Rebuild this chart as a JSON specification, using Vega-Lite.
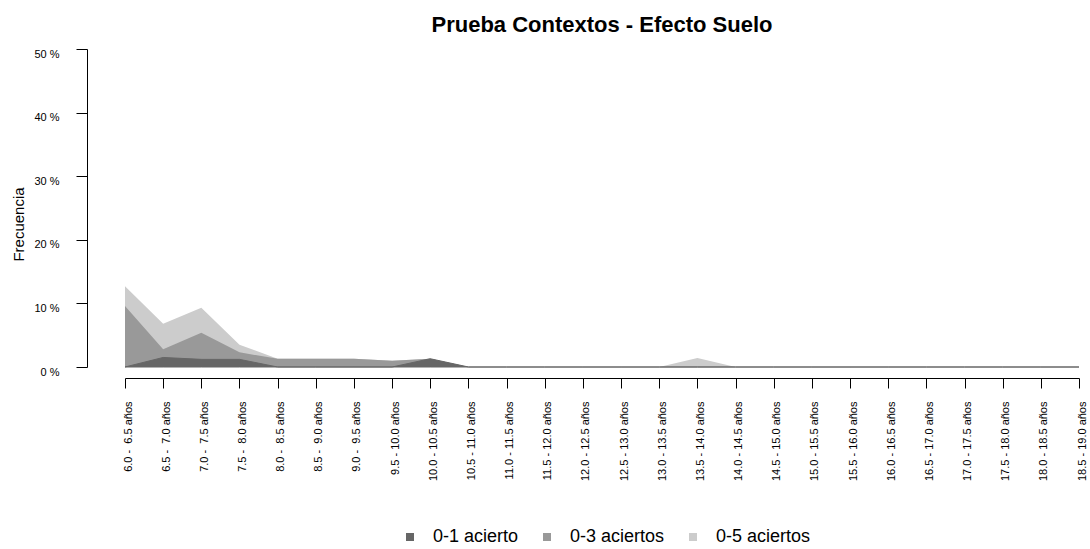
{
  "$schema": "https://vega.github.io/schema/vega-lite/v6.json",
  "width": 954,
  "height": 318,
  "autosize": {"type": "none"},
  "padding": {"left": 125, "top": 49, "right": 11, "bottom": 182},
  "background": "white",
  "title": {"text": "Prueba Contextos - Efecto Suelo", "fontSize": 22, "fontWeight": "bold", "font": "Liberation Sans", "color": "black", "anchor": "middle", "baseline": "alphabetic", "offset": -6},
  "data": {"values": [
    {"edad": "6.0 - \u00a06.5 años", "0-1 acierto": 0, "0-3 aciertos": 9.6, "0-5 aciertos": 12.7},
    {"edad": "6.5 - \u00a07.0 años", "0-1 acierto": 1.5, "0-3 aciertos": 2.8, "0-5 aciertos": 6.8},
    {"edad": "7.0 - \u00a07.5 años", "0-1 acierto": 1.2, "0-3 aciertos": 5.4, "0-5 aciertos": 9.3},
    {"edad": "7.5 - \u00a08.0 años", "0-1 acierto": 1.2, "0-3 aciertos": 2.3, "0-5 aciertos": 3.5},
    {"edad": "8.0 - \u00a08.5 años", "0-1 acierto": 0, "0-3 aciertos": 1.3, "0-5 aciertos": 1.3},
    {"edad": "8.5 - \u00a09.0 años", "0-1 acierto": 0, "0-3 aciertos": 1.3, "0-5 aciertos": 1.3},
    {"edad": "9.0 - \u00a09.5 años", "0-1 acierto": 0, "0-3 aciertos": 1.3, "0-5 aciertos": 1.3},
    {"edad": "9.5 - 10.0 años", "0-1 acierto": 0, "0-3 aciertos": 1.0, "0-5 aciertos": 1.0},
    {"edad": "10.0 - 10.5 años", "0-1 acierto": 1.3, "0-3 aciertos": 1.3, "0-5 aciertos": 1.3},
    {"edad": "10.5 - 11.0 años", "0-1 acierto": 0, "0-3 aciertos": 0, "0-5 aciertos": 0},
    {"edad": "11.0 - 11.5 años", "0-1 acierto": 0, "0-3 aciertos": 0, "0-5 aciertos": 0},
    {"edad": "11.5 - 12.0 años", "0-1 acierto": 0, "0-3 aciertos": 0, "0-5 aciertos": 0},
    {"edad": "12.0 - 12.5 años", "0-1 acierto": 0, "0-3 aciertos": 0, "0-5 aciertos": 0},
    {"edad": "12.5 - 13.0 años", "0-1 acierto": 0, "0-3 aciertos": 0, "0-5 aciertos": 0},
    {"edad": "13.0 - 13.5 años", "0-1 acierto": 0, "0-3 aciertos": 0, "0-5 aciertos": 0},
    {"edad": "13.5 - 14.0 años", "0-1 acierto": 0, "0-3 aciertos": 0, "0-5 aciertos": 1.4},
    {"edad": "14.0 - 14.5 años", "0-1 acierto": 0, "0-3 aciertos": 0, "0-5 aciertos": 0},
    {"edad": "14.5 - 15.0 años", "0-1 acierto": 0, "0-3 aciertos": 0, "0-5 aciertos": 0},
    {"edad": "15.0 - 15.5 años", "0-1 acierto": 0, "0-3 aciertos": 0, "0-5 aciertos": 0},
    {"edad": "15.5 - 16.0 años", "0-1 acierto": 0, "0-3 aciertos": 0, "0-5 aciertos": 0},
    {"edad": "16.0 - 16.5 años", "0-1 acierto": 0, "0-3 aciertos": 0, "0-5 aciertos": 0},
    {"edad": "16.5 - 17.0 años", "0-1 acierto": 0, "0-3 aciertos": 0, "0-5 aciertos": 0},
    {"edad": "17.0 - 17.5 años", "0-1 acierto": 0, "0-3 aciertos": 0, "0-5 aciertos": 0},
    {"edad": "17.5 - 18.0 años", "0-1 acierto": 0, "0-3 aciertos": 0, "0-5 aciertos": 0},
    {"edad": "18.0 - 18.5 años", "0-1 acierto": 0, "0-3 aciertos": 0, "0-5 aciertos": 0},
    {"edad": "18.5 - 19.0 años", "0-1 acierto": 0, "0-3 aciertos": 0, "0-5 aciertos": 0}
  ]},
  "transform": [{"fold": ["0-1 acierto", "0-3 aciertos", "0-5 aciertos"], "as": ["serie", "pct"]}],
  "encoding": {
    "x": {
      "field": "edad", "type": "ordinal", "sort": null,
      "scale": {"type": "point", "padding": 0},
      "axis": {"title": null, "offset": 11, "domainColor": "black", "domainWidth": 1, "tickColor": "black", "tickWidth": 1, "tickSize": 10, "labelAngle": -90, "labelFontSize": 11, "labelFont": "Liberation Sans", "labelColor": "black", "labelPadding": 13, "labelOffset": 3, "grid": false, "labelOverlap": false, "labelBound": false, "labelFlush": false}
    },
    "y": {
      "field": "pct", "type": "quantitative", "stack": null,
      "scale": {"domain": [0, 50], "nice": false, "zero": true},
      "axis": {"title": "Frecuencia", "values": [0, 10, 20, 30, 40, 50], "labelExpr": "datum.value + ' %'", "offset": 38, "tickSize": 11, "tickColor": "black", "tickWidth": 1, "domainColor": "black", "domainWidth": 1, "labelPadding": 17, "labelOffset": 5, "labelFontSize": 11, "labelFont": "Liberation Sans", "labelColor": "black", "labelFlush": false, "labelBound": false, "grid": false, "titleFontSize": 15, "titleFont": "Liberation Sans", "titleFontWeight": "normal", "titleColor": "black", "titleX": -64, "titleY": 175, "titleBaseline": "alphabetic", "titleAngle": 270, "titleAlign": "center"}
    },
    "color": {
      "field": "serie", "type": "nominal",
      "scale": {"domain": ["0-1 acierto", "0-3 aciertos", "0-5 aciertos"], "range": ["#666666", "#999999", "#cccccc"]},
      "legend": {"orient": "none", "legendX": 276, "legendY": 479, "direction": "horizontal", "title": null, "symbolType": "square", "symbolSize": 64, "symbolStrokeWidth": 0, "symbolOpacity": 1, "labelFontSize": 18, "labelFont": "Liberation Sans", "labelColor": "black", "labelOffset": 14, "columnPadding": 19, "padding": 0}
    }
  },
  "layer": [
    {"transform": [{"filter": "datum.serie == '0-5 aciertos'"}], "mark": {"type": "area", "opacity": 1}},
    {"transform": [{"filter": "datum.serie == '0-3 aciertos'"}], "mark": {"type": "area", "opacity": 1}},
    {"transform": [{"filter": "datum.serie == '0-1 acierto'"}], "mark": {"type": "area", "opacity": 1, "stroke": "#666666", "strokeWidth": 1}}
  ],
  "config": {"view": {"stroke": null}, "font": "Liberation Sans"}
}
